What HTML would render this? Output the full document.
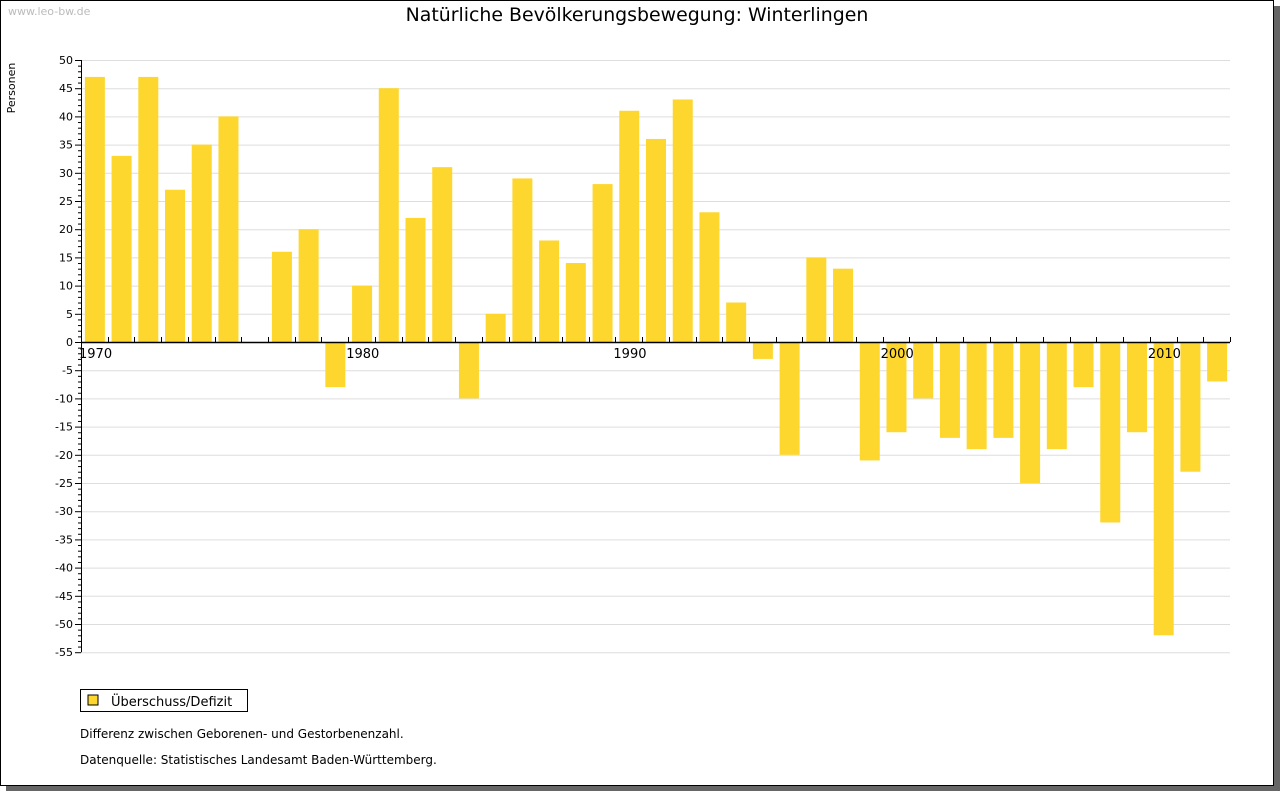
<!DOCTYPE html>
<html><head><meta charset="utf-8"><style>
body{margin:0;width:1280px;height:791px;background:#fff;font-family:"DejaVu Sans","Liberation Sans",sans-serif;overflow:hidden}
#frame{position:absolute;left:0;top:0;width:1272px;height:784px;border:1px solid #000;box-shadow:6px 6px 0 #666;background:#fff}
</style></head><body>
<div id="frame"></div>
<svg id="chart" width="1280" height="791" style="position:absolute;left:0;top:0" font-family="DejaVu Sans, Liberation Sans, sans-serif">
<text x="8" y="15" font-size="11" fill="#bbb">www.leo-bw.de</text>
<text x="637" y="21" font-size="18.9" text-anchor="middle" fill="#000">Natürliche Bevölkerungsbewegung: Winterlingen</text>
<text transform="translate(15,88) rotate(-90)" font-size="11" text-anchor="middle">Personen</text>
<g id="grid"></g><g id="bars"></g><g id="axes"></g>
<rect x="88" y="695" width="10" height="10" fill="#fdd72d" stroke="#000" stroke-width="1"/>
<rect x="80.5" y="689.5" width="167" height="22" fill="none" stroke="#000"/>
<text x="111" y="706" font-size="13">Überschuss/Defizit</text>
<text x="80" y="738" font-size="12">Differenz zwischen Geborenen- und Gestorbenenzahl.</text>
<text x="80" y="764" font-size="12">Datenquelle: Statistisches Landesamt Baden-Württemberg.</text>
</svg>
<script>
const years=[1970,1971,1972,1973,1974,1975,1976,1977,1978,1979,1980,1981,1982,1983,1984,1985,1986,1987,1988,1989,1990,1991,1992,1993,1994,1995,1996,1997,1998,1999,2000,2001,2002,2003,2004,2005,2006,2007,2008,2009,2010,2011,2012];
const values=[47,33,47,27,35,40,0,16,20,-8,10,45,22,31,-10,5,29,18,14,28,41,36,43,23,7,-3,-20,15,13,-21,-16,-10,-17,-19,-17,-25,-19,-8,-32,-16,-52,-23,-7];
const yTicks=[50,45,40,35,30,25,20,15,10,5,0,-5,-10,-15,-20,-25,-30,-35,-40,-45,-50,-55];
const xLabels=[1970,1980,1990,2000,2010];
const NS="http://www.w3.org/2000/svg";
const x0=81,xStep=(1230-81)/43,startYear=1970;
const X=yr=>x0+(yr-startYear)*xStep;
const Y=v=>342-v*(282/50);
function mk(tag,attrs,parent){const e=document.createElementNS(NS,tag);for(const k in attrs)e.setAttribute(k,attrs[k]);document.getElementById(parent).appendChild(e);return e;}
yTicks.forEach(t=>{
  const g=mk('line',{x1:x0,x2:1230,y1:Y(t)+0.5,y2:Y(t)+0.5,stroke:'#ddd'},'grid');
  
  
  const tk=mk('line',{x1:x0-6,x2:x0,y1:Y(t)+0.5,y2:Y(t)+0.5,stroke:'#000'},'axes');
  
  
  const lb=mk('text',{x:x0-8,y:Y(t)+4,'font-size':11,'text-anchor':'end'},'axes');
  lb.textContent=t;
  
  
});
for(let v=-55;v<=50;v++){if(v%5===0)continue;
  const m=mk('line',{x1:x0-3,x2:x0,y1:Y(v)+0.5,y2:Y(v)+0.5,stroke:'#000'},'axes');
  
  
}
years.forEach((yr,i)=>{
  const v=values[i];
  const b=mk('rect',{x:X(yr)+xStep/2-9.5,y:Math.min(Y(v),Y(0)),width:20,height:Math.abs(Y(v)-Y(0)),fill:'#fdd72d'},'bars');
  
  
});
for(let i=0;i<=years.length;i++){
  const t=mk('line',{x1:Math.round(X(startYear+i))+0.5,x2:Math.round(X(startYear+i))+0.5,y1:Y(0)-5,y2:Y(0),stroke:'#000'},'axes');
  
  
}
xLabels.forEach(yr=>{
  const l=mk('text',{x:X(yr)-2,y:Y(0)+16,'font-size':13},'axes');
  l.textContent=yr;
  
  
});
const ya=mk('line',{x1:x0+0.5,x2:x0+0.5,y1:Y(50),y2:Y(-55),stroke:'#000'},'axes');


const xa=mk('line',{x1:x0,x2:1230,y1:Y(0)+0.5,y2:Y(0)+0.5,stroke:'#000','stroke-width':1.5},'axes');


</script>
</body></html>
